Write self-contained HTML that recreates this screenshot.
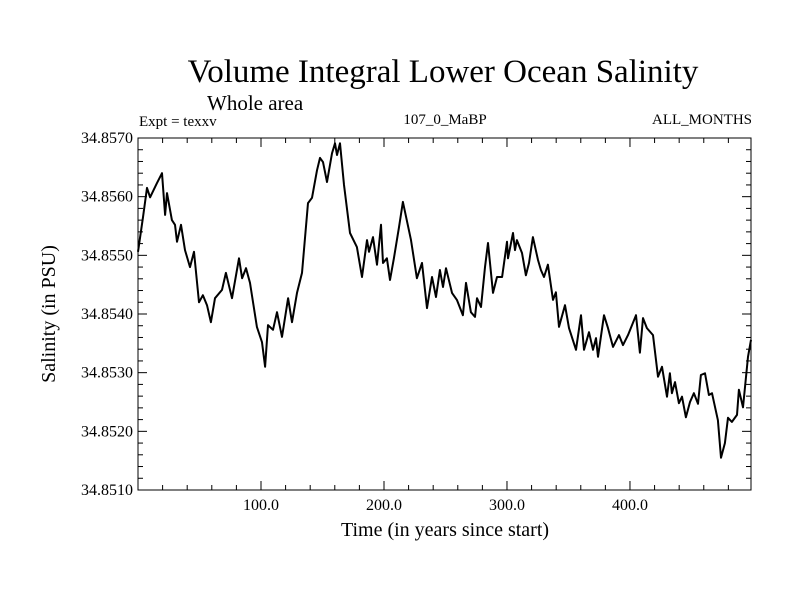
<!DOCTYPE html>
<html><head><meta charset="utf-8"><style>
body{margin:0;background:#fff}
svg text{font-family:"Liberation Serif",serif;fill:#000}
</style></head><body>
<svg id="chart" width="800" height="600" xmlns="http://www.w3.org/2000/svg">
<text x="443" y="82" font-size="33" text-anchor="middle">Volume Integral Lower Ocean Salinity</text>
<text x="207" y="110" font-size="21">Whole area</text>
<text x="139" y="126" font-size="15">Expt = texxv</text>
<text x="445" y="124" font-size="15" text-anchor="middle">107_0_MaBP</text>
<text x="752" y="124" font-size="15" text-anchor="end">ALL_MONTHS</text>
<text x="445" y="536" font-size="20" text-anchor="middle">Time (in years since start)</text>
<text transform="translate(55,314) rotate(-90)" font-size="20" text-anchor="middle">Salinity (in PSU)</text>
<g id="axes"></g>
<rect x="138" y="138" width="613" height="352" fill="none" stroke="#000" stroke-width="1"/>
<path id="line" fill="none" stroke="#000" stroke-width="2" stroke-linejoin="round"/>
</svg>
<script>
const years=[0,4.1,7.3,9.8,15.4,19.5,22,23.6,27.6,30.1,31.7,35,38.2,42.3,45.5,49.6,52.8,56.1,59.3,62.6,68.3,71.5,76.4,82.1,84.6,87.8,91.1,96.7,100.8,103.3,105.7,109.8,113,117.1,122,125.2,129.3,133.3,138.2,141.5,145.5,148,150.4,153.7,157.7,160.2,161.8,164.2,167.5,172.4,178,182.1,186.2,187.8,191.1,194.3,197.6,199.2,202.4,204.9,208.1,212.2,215.4,222,226.8,230.9,235,239,242.3,245.5,248,250.4,255.3,259.3,264.2,266.7,270.7,274,275.6,278.9,282.1,284.6,288.6,291.9,296,300,300.8,304.9,306.5,308.1,312.2,315.4,317.9,321.1,325.2,327.6,330.1,333.3,337.4,339.8,342.3,347.2,350.4,356.1,360.2,362.6,366.7,369.9,372.4,374,378.9,382.1,386.2,391.1,394.3,398.4,404.9,408.1,410.6,413.8,418.7,422.8,426,430.1,432.5,434.1,436.6,439.8,442.3,445.5,448.8,452,455.3,457.7,461,464.2,466.7,471.5,474,477.2,479.7,482.9,487,488.6,491.9,496,498.4];
const salinity=[34.85506,34.85565,34.85615,34.85599,34.85623,34.8564,34.85569,34.85606,34.8556,34.85552,34.85523,34.85552,34.85509,34.8548,34.85506,34.8542,34.85432,34.85415,34.85386,34.85427,34.85441,34.8547,34.85427,34.85495,34.85461,34.85478,34.85453,34.85378,34.85352,34.8531,34.85381,34.85373,34.85403,34.85361,34.85427,34.85386,34.85436,34.8547,34.85589,34.85598,34.85645,34.85666,34.85659,34.85625,34.85674,34.85691,34.85671,34.85691,34.8562,34.85538,34.85514,34.85463,34.85526,34.85506,34.85531,34.85484,34.85552,34.85487,34.85495,34.85458,34.85495,34.85548,34.85591,34.85526,34.85461,34.85487,34.8541,34.85463,34.85429,34.85475,34.85446,34.85478,34.85436,34.85424,34.85398,34.85453,34.85403,34.85395,34.85427,34.85412,34.8548,34.85521,34.85436,34.85463,34.85463,34.85523,34.85495,34.85538,34.85509,34.85526,34.85504,34.85466,34.85487,34.85531,34.85492,34.85475,34.85463,34.85484,34.85424,34.85437,34.85378,34.85415,34.85376,34.85339,34.85398,34.85339,34.85369,34.85339,34.85359,34.85327,34.85398,34.85376,34.85344,34.85364,34.85347,34.85364,34.85398,34.85334,34.85393,34.85376,34.85364,34.85293,34.8531,34.85259,34.85299,34.85265,34.85284,34.85248,34.85259,34.85224,34.8525,34.85265,34.85247,34.85296,34.85299,34.85262,34.85265,34.85219,34.85155,34.8518,34.85223,34.85216,34.85228,34.85271,34.85241,34.85327,34.85356];
const xTickLabels=["100.0","200.0","300.0","400.0"];
const xTickValues=[100,200,300,400];
const yTickLabels=["34.8510","34.8520","34.8530","34.8540","34.8550","34.8560","34.8570"];
const yTickValues=[34.851,34.852,34.853,34.854,34.855,34.856,34.857];

const X0=138,X1=751,Y0=490,Y1=138,XMIN=0,XMAX=498.4,YMIN=34.851,YMAX=34.857;
const sx=v=>X0+(v-XMIN)/(XMAX-XMIN)*(X1-X0);
const sy=v=>Y0-(v-YMIN)/(YMAX-YMIN)*(Y0-Y1);
const NS="http://www.w3.org/2000/svg";
const ax=document.getElementById('axes');
function ln(x1,y1,x2,y2,name){const l=document.createElementNS(NS,'line');l.setAttribute('x1',x1);l.setAttribute('y1',y1);l.setAttribute('x2',x2);l.setAttribute('y2',y2);l.setAttribute('stroke','#000');


ax.appendChild(l);}
for(let v=20;v<XMAX;v+=20){const x=sx(v);const L=(v%100===0)?9:5;ln(x,Y0,x,Y0-L,'x-tick');ln(x,Y1,x,Y1+L,'x-tick-top');}
for(let i=0;i<=30;i++){const v=YMIN+i*0.0002;const y=sy(v);const L=(i%5===0)?9:5;ln(X0,y,X0+L,y,'y-tick');ln(X1,y,X1-L,y,'y-tick-right');}
xTickValues.forEach((v,i)=>{const t=document.createElementNS(NS,'text');t.setAttribute('x',sx(v));t.setAttribute('y',Y0+20);t.setAttribute('font-size','16');t.setAttribute('text-anchor','middle');t.textContent=xTickLabels[i];


ax.appendChild(t);});
yTickValues.forEach((v,i)=>{const t=document.createElementNS(NS,'text');t.setAttribute('x',X0-5);t.setAttribute('y',sy(v)+5);t.setAttribute('font-size','16');t.setAttribute('text-anchor','end');t.textContent=yTickLabels[i];


ax.appendChild(t);});
document.getElementById('line').setAttribute('d',years.map((y,i)=>(i?'L':'M')+sx(y).toFixed(1)+','+sy(salinity[i]).toFixed(1)).join(''));
</script>
</body></html>
